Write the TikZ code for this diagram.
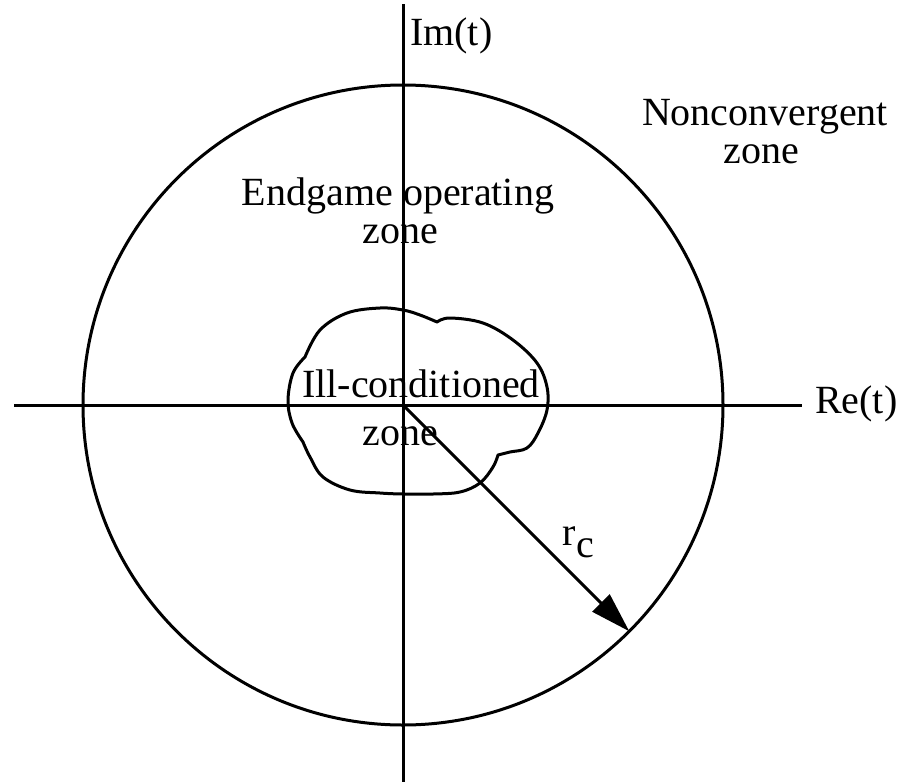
\documentclass[tikz,border=0pt]{standalone}
\usepackage{fontspec}
\setmainfont{Liberation Serif}
\usetikzlibrary{arrows.meta,calc}
\begin{document}
\begin{tikzpicture}[x=1pt,y=-1pt,
  lbl/.style={inner sep=0pt, anchor=base, font=\fontsize{40}{48}\selectfont},
  lblw/.style={inner sep=0pt, anchor=base west, font=\fontsize{40}{48}\selectfont},
  axisline/.style={line width=3pt},
  cloudline/.style={line width=3pt, line join=round}]
\useasboundingbox (0,0) rectangle (899,782);
\coordinate (O) at (403,405);
\coordinate (ytop) at (403,4);
\coordinate (ybot) at (403,782);
\coordinate (xleft) at (14,405);
\coordinate (xright) at (802,405);
\coordinate (tip) at ($(O)+(45:320)$);
% axes
\draw[axisline] (ytop) -- (ybot);
\draw[axisline] (xleft) -- (xright);
% circle
\draw[axisline] (O) circle[radius=320];
% cloud
\draw[cloudline]
  plot[smooth, tension=0.6] coordinates {(305,357) (320,330) (347,313) (380,308) (403,310) (420,315) (437,322)}
  -- plot[smooth, tension=0.6] coordinates {(437,322) (450,318) (483,323) (513,340) (537,363) (547,387) (547,410) (538,433) (527,448) (510,452) (498,455)}
  -- plot[smooth, tension=0.6] coordinates {(498,455) (493,467) (480,483) (460,492) (433,494) (403,494) (380,493) (350,490) (323,477) (310,457) (303,442)}
  -- plot[smooth, tension=0.6] coordinates {(303,442) (292,423) (288,400) (293,373) (305,357)}
  -- cycle;
% radius arrow
\draw[axisline, -{Triangle[length=40pt,width=24pt]}] (O) -- (tip);
% labels
\node[lblw] (im) at (410,45) {Im(t)};
\node[lblw] (re) at (815,413) {Re(t)};
\node[lbl] (nc1) at (765,125) {Nonconvergent};
\node[lbl] (nc2) at (761,163) {zone};
\node[lbl] (eg1) at (398,205) {Endgame operating};
\node[lbl] (eg2) at (400,243) {zone};
\node[lbl] (ic1) at (421,397) {Ill-conditioned};
\node[lbl] (ic2) at (400,445) {zone};
\node[lblw] (rc) at (562,545) {r\kern1pt\raisebox{-12pt}{c}};
\end{tikzpicture}
\end{document}
